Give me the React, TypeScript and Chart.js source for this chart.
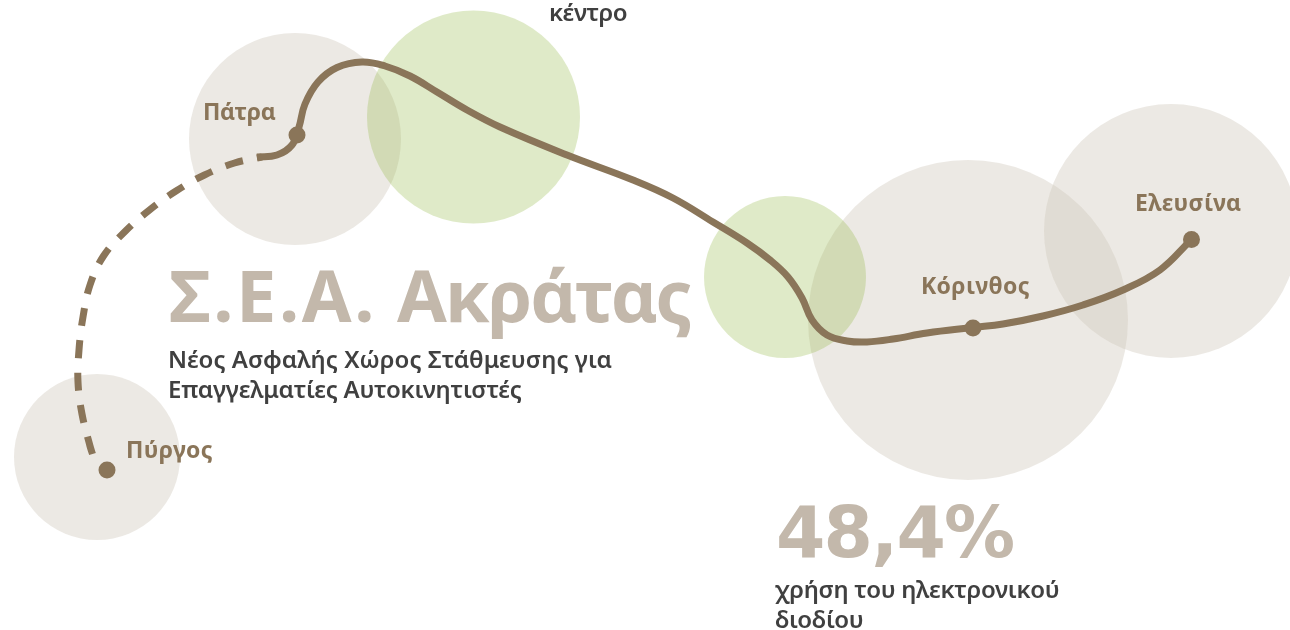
import React, { useEffect, useRef } from "react";
import { Chart, registerables } from "chart.js";

Chart.register(...registerables);

// Circles
const greyCircleX = [295, 968, 1171, 97];
const greyCircleY = [139, 320, 231, 457];
const greyCircleR = [106, 160, 127, 83];
const greenCircleX = [473.5, 785];
const greenCircleY = [117, 277];
const greenCircleR = [106.5, 81];

// Road
const roadX = [257, 277, 292, 299, 305, 318, 337, 362, 385, 410, 437, 467, 500, 567, 633, 673, 713, 747, 770, 788, 802, 812, 827, 847, 867, 893, 927, 973, 1003, 1043, 1083, 1123, 1160, 1191];
const roadY = [157, 155, 145, 127, 104, 82, 67.5, 62, 66, 76, 92, 110, 127, 155, 180, 198, 222, 243, 260, 277, 298, 320, 335, 341, 342, 339, 333, 327.5, 324, 316, 305, 290, 270, 240];
const dashX = [92.5, 90, 82, 78, 79, 83, 90, 103.5, 125, 149.5, 176, 204.5, 234.5, 262];
const dashY = [454, 446, 414, 382, 350, 317, 285, 256, 231.5, 210, 191, 175, 163, 157];

// Stops
const stopX = [107, 297, 973, 1191.5];
const stopY = [470, 135, 328, 239.5];
const stopR = [8.5, 8.5, 8.5, 8.5];

// Texts
const stopLabels = ["Πύργος", "Πάτρα", "Κόρινθος", "Ελευσίνα"];
const titleWords = ["Σ.Ε.Α.", "Ακράτας"];
const subtitleLines = ["Νέος Ασφαλής Χώρος Στάθμευσης για", "Επαγγελματίες Αυτοκινητιστές"];
const centerLabel = "κέντρο";
const shareLabel = "48,4%";
const shareLines = ["χρήση του ηλεκτρονικού", "διοδίου"];

const BROWN = "#8a7559";
const TAUPE = "#c3b8ab";
const DARK = "#404040";
const FAMILY = '"Noto Sans", sans-serif';

type Piece = { t: string; x: number; y: number; f: string; c: string; ls?: number };
const pieces: Piece[] = [
  { t: stopLabels[0], x: 126, y: 458, f: `700 23px ${FAMILY}`, c: BROWN, ls: 0.4 },
  { t: stopLabels[1], x: 203, y: 120, f: `700 23px ${FAMILY}`, c: BROWN, ls: -0.3 },
  { t: stopLabels[2], x: 921, y: 294, f: `700 23px ${FAMILY}`, c: BROWN, ls: 0.4 },
  { t: stopLabels[3], x: 1135, y: 211, f: `700 23px ${FAMILY}`, c: BROWN, ls: 0.3 },
  { t: titleWords[0], x: 169, y: 322, f: `700 72px ${FAMILY}`, c: TAUPE, ls: 2.6 },
  { t: titleWords[1], x: 397, y: 322, f: `700 72px ${FAMILY}`, c: TAUPE, ls: -1.9 },
  { t: subtitleLines[0], x: 168, y: 368, f: `600 24px ${FAMILY}`, c: DARK, ls: 0.05 },
  { t: subtitleLines[1], x: 168, y: 398, f: `600 24px ${FAMILY}`, c: DARK, ls: -0.2 },
  { t: centerLabel, x: 549, y: 21, f: `600 24px ${FAMILY}`, c: DARK, ls: -0.5 },
  { t: shareLabel, x: 776, y: 557, f: `700 71px "DejaVu Sans", sans-serif`, c: TAUPE, ls: -1.8 },
  { t: shareLines[0], x: 775, y: 598, f: `600 24px ${FAMILY}`, c: DARK, ls: -0.3 },
  { t: shareLines[1], x: 775, y: 628, f: `600 24px ${FAMILY}`, c: DARK, ls: -0.3 },
];

const textPlugin = {
  id: "textPieces",
  afterDatasetsDraw(chart: any) {
    const ctx = chart.ctx;
    ctx.save();
    ctx.textAlign = "left";
    ctx.textBaseline = "alphabetic";
    for (const p of pieces) {
      ctx.font = p.f;
      ctx.fillStyle = p.c;
      ctx.letterSpacing = `${p.ls ?? 0}px`;
      ctx.fillText(p.t, p.x, p.y);
    }
    ctx.restore();
  },
};

const xy = (xs: number[], ys: number[]) => xs.map((x, i) => ({ x, y: ys[i] }));
const xyr = (xs: number[], ys: number[], rs: number[]) => xs.map((x, i) => ({ x, y: ys[i], r: rs[i] }));

export default function App() {
  const ref = useRef<HTMLCanvasElement>(null);
  useEffect(() => {
    const chart = new Chart(ref.current!, {
      type: "bubble",
      data: {
        datasets: [
          { type: "bubble", label: "grey", data: xyr(greyCircleX, greyCircleY, greyCircleR), backgroundColor: "rgba(207,200,187,0.4)", borderWidth: 0, order: 5 },
          { type: "bubble", label: "green", data: xyr(greenCircleX, greenCircleY, greenCircleR), backgroundColor: "rgba(148,185,72,0.3)", borderWidth: 0, order: 4 },
          { type: "line", label: "dash", data: xy(dashX, dashY), borderColor: BROWN, borderWidth: 7, borderDash: [18, 14.5], tension: 0.4, pointRadius: 0, fill: false, order: 3 },
          { type: "line", label: "road", data: xy(roadX, roadY), borderColor: BROWN, borderWidth: 7, tension: 0.4, pointRadius: 0, fill: false, order: 2 },
          { type: "bubble", label: "stops", data: xyr(stopX, stopY, stopR), backgroundColor: BROWN, borderWidth: 0, order: 1 },
        ],
      } as any,
      options: {
        animation: false,
        responsive: false,
        layout: { padding: 0, autoPadding: false },
        plugins: { legend: { display: false }, tooltip: { enabled: false } },
        scales: {
          x: { type: "linear", min: 0, max: 1290, display: false },
          y: { type: "linear", min: 0, max: 630, reverse: true, display: false },
        },
      },
      plugins: [textPlugin],
    } as any);
    return () => chart.destroy();
  }, []);
  return (
    <div style={{ position: "absolute", left: 0, top: 0, width: 1290, height: 630, background: "#fff" }}>
      <canvas ref={ref} width={1290} height={630} style={{ display: "block" }} />
    </div>
  );
}
